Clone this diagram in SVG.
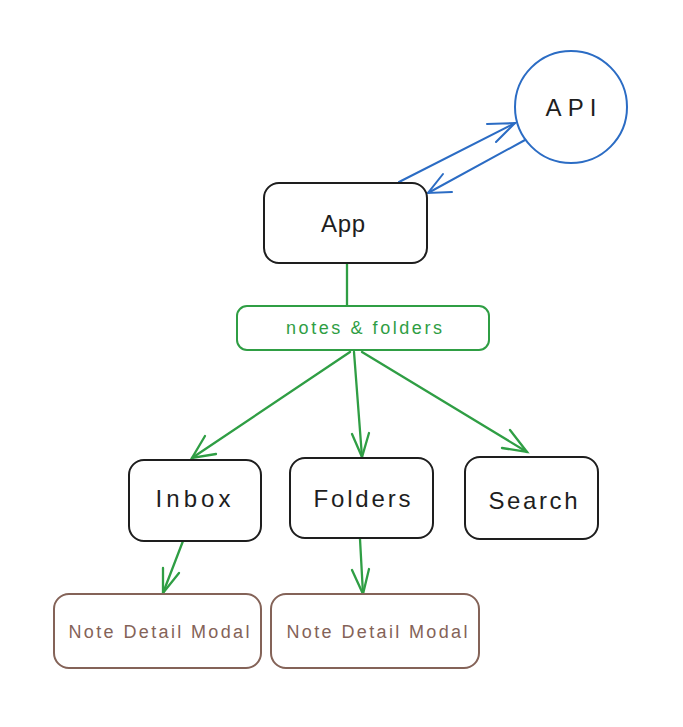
<svg xmlns="http://www.w3.org/2000/svg" width="683" height="727" viewBox="0 0 683 727">
<style>
.box{fill:#fff;stroke:#1e1e1e;stroke-width:2}
.lbl{font-family:"Liberation Sans",Arial,sans-serif;font-size:24px;fill:#1e1e1e;text-anchor:middle;dominant-baseline:central}
.g{stroke:#2f9e44;stroke-width:2.3;fill:none;stroke-linecap:round}
.b{stroke:#2b6cc4;stroke-width:2;fill:none;stroke-linecap:round}
.br{fill:#fff;stroke:#846358;stroke-width:2}
.brt{font-family:"Liberation Sans",Arial,sans-serif;font-size:18px;fill:#846358;text-anchor:middle;dominant-baseline:central}
</style>
<rect width="683" height="727" fill="#fff"/>
<g id="connectors">
<line class="b" x1="399" y1="182" x2="515" y2="123"/>
<polyline class="b" points="487,124 515,123 496,142"/>
<line class="b" x1="525" y1="140" x2="428" y2="193" stroke-width="3"/>
<polyline class="b" points="443,174 428,193 452,192" stroke-width="2.5"/>
<line class="g" x1="347" y1="264" x2="347" y2="306"/>
<line class="g" x1="350" y1="352" x2="192" y2="458"/>
<polyline class="g" points="205,436 192,458 216,454"/>
<line class="g" x1="354" y1="352" x2="362" y2="457"/>
<polyline class="g" points="352,434 362,457 369,433"/>
<line class="g" x1="362" y1="352" x2="527" y2="452"/>
<polyline class="g" points="510,430 527,452 502,448"/>
<line class="g" x1="183" y1="541" x2="163" y2="593"/>
<polyline class="g" points="163,568 163,593 179,573"/>
<line class="g" x1="360" y1="539" x2="363" y2="594"/>
<polyline class="g" points="352,570 363,594 369,569"/>
</g>
<g id="api">
<circle cx="571" cy="107" r="56" fill="#fff" stroke="#2b6cc4" stroke-width="2"/>
<text class="lbl" x="571" y="107" font-size="26" textLength="51" lengthAdjust="spacing">API</text>
</g>
<g id="app">
<rect class="box" x="264" y="183" width="163" height="80" rx="15"/>
<text class="lbl" x="343" y="223" textLength="44" lengthAdjust="spacing">App</text>
</g>
<g id="notes-folders">
<rect x="237" y="306" width="252" height="44" rx="10" fill="#fff" stroke="#2f9e44" stroke-width="2"/>
<text x="364" y="328" font-family="Liberation Sans,Arial,sans-serif" font-size="18" fill="#2f9e44" text-anchor="middle" dominant-baseline="central" textLength="156" lengthAdjust="spacing">notes &amp; folders</text>
</g>
<g id="inbox">
<rect class="box" x="129" y="460" width="132" height="81" rx="15"/>
<text class="lbl" x="193" y="498" textLength="75" lengthAdjust="spacing">Inbox</text>
</g>
<g id="folders">
<rect class="box" x="290" y="458" width="143" height="80" rx="15"/>
<text class="lbl" x="362" y="498" textLength="97" lengthAdjust="spacing">Folders</text>
</g>
<g id="search">
<rect class="box" x="465" y="457" width="133" height="82" rx="15"/>
<text class="lbl" x="533" y="500" textLength="89" lengthAdjust="spacing">Search</text>
</g>
<g id="note-detail-1">
<rect class="br" x="54" y="594" width="207" height="74" rx="15"/>
<text class="brt" x="159" y="632" textLength="181" lengthAdjust="spacing">Note Detail Modal</text>
</g>
<g id="note-detail-2">
<rect class="br" x="271" y="594" width="208" height="74" rx="15"/>
<text class="brt" x="377" y="632" textLength="181" lengthAdjust="spacing">Note Detail Modal</text>
</g>
</svg>
